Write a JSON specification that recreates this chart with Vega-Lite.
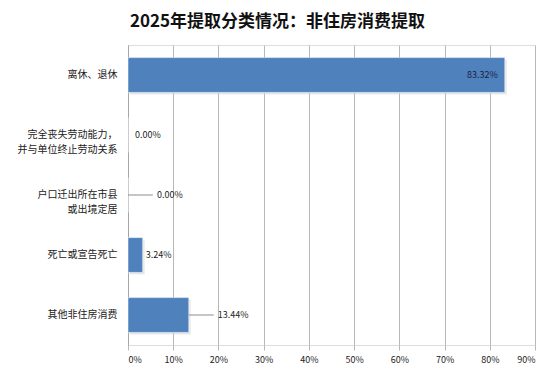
{
  "$schema": "https://vega.github.io/schema/vega-lite/v6.json",
  "autosize": {"type": "none"},
  "padding": {"left": 128, "top": 45, "right": 19, "bottom": 26},
  "width": 407,
  "height": 300,
  "background": "white",
  "title": {
    "text": "2025年提取分类情况：非住房消费提取",
    "font": "Noto Sans CJK SC",
    "fontSize": 17,
    "fontWeight": "bold",
    "color": "#111111",
    "anchor": "middle",
    "dx": -54,
    "offset": 14
  },
  "data": {
    "values": [
      {"cat": "离休、退休", "value": 0.8332, "label": "83.32%"},
      {"cat": "完全丧失劳动能力，\n并与单位终止劳动关系", "value": 0.0, "label": "0.00%"},
      {"cat": "户口迁出所在市县\n或出境定居", "value": 0.0, "label": "0.00%"},
      {"cat": "死亡或宣告死亡", "value": 0.0324, "label": "3.24%"},
      {"cat": "其他非住房消费", "value": 0.1344, "label": "13.44%"}
    ]
  },
  "encoding": {
    "y": {
      "field": "cat",
      "type": "nominal",
      "sort": null,
      "scale": {"paddingInner": 0.42, "paddingOuter": 0.21},
      "axis": {
        "title": null,
        "labelExpr": "split(datum.label, '\\n')",
        "labelFont": "Noto Sans CJK SC",
        "labelFontSize": 10,
        "labelColor": "#222222",
        "labelPadding": 11,
        "ticks": false,
        "domainColor": "#a6a6a6",
        "labelLineHeight": 15
      }
    },
    "x": {
      "field": "value",
      "type": "quantitative",
      "scale": {"domain": [0, 0.9], "nice": false},
      "axis": {
        "title": null,
        "format": ".0%",
        "values": [0, 0.1, 0.2, 0.3, 0.4, 0.5, 0.6, 0.7, 0.8, 0.9],
        "domain": false,
        "grid": true,
        "gridColor": "#b8b8b8",
        "tickColor": "#b8b8b8",
        "tickSize": 5,
        "labelFont": "Noto Sans CJK SC",
        "labelFontSize": 9,
        "labelColor": "#222222",
        "labelPadding": 5
      }
    }
  },
  "layer": [
    {
      "mark": {"type": "bar", "color": "#d9d9d9", "xOffset": 2, "yOffset": 2, "opacity": 0.6},
      "encoding": {}
    },
    {
      "mark": {"type": "bar", "color": "#4f81bd", "stroke": "#ffffff", "strokeWidth": 0.5},
      "encoding": {}
    },
    {
      "transform": [{"filter": "datum.value > 0.5"}],
      "mark": {"type": "text", "align": "right", "dx": -7, "font": "Noto Sans CJK SC", "fontSize": 9, "color": "#1f1f3f"},
      "encoding": {"text": {"field": "label"}}
    },
    {
      "transform": [{"filter": "datum.cat == '完全丧失劳动能力，\\n并与单位终止劳动关系'"}],
      "mark": {"type": "text", "align": "left", "dx": 7, "font": "Noto Sans CJK SC", "fontSize": 9, "color": "#222222"},
      "encoding": {"text": {"field": "label"}}
    },
    {
      "transform": [{"filter": "datum.cat == '死亡或宣告死亡'"}],
      "mark": {"type": "text", "align": "left", "dx": 3, "font": "Noto Sans CJK SC", "fontSize": 9, "color": "#222222"},
      "encoding": {"text": {"field": "label"}}
    },
    {
      "transform": [{"filter": "datum.cat == '户口迁出所在市县\\n或出境定居' || datum.cat == '其他非住房消费'"}],
      "mark": {"type": "text", "align": "left", "dx": 29, "font": "Noto Sans CJK SC", "fontSize": 9, "color": "#222222"},
      "encoding": {"text": {"field": "label"}}
    },
    {
      "transform": [
        {"filter": "datum.cat == '户口迁出所在市县\\n或出境定居' || datum.cat == '其他非住房消费'"},
        {"calculate": "datum.value + 0.055", "as": "leadEnd"}
      ],
      "mark": {"type": "rule", "color": "#8c8c8c", "strokeWidth": 1},
      "encoding": {"x2": {"field": "leadEnd"}}
    }
  ]
}
